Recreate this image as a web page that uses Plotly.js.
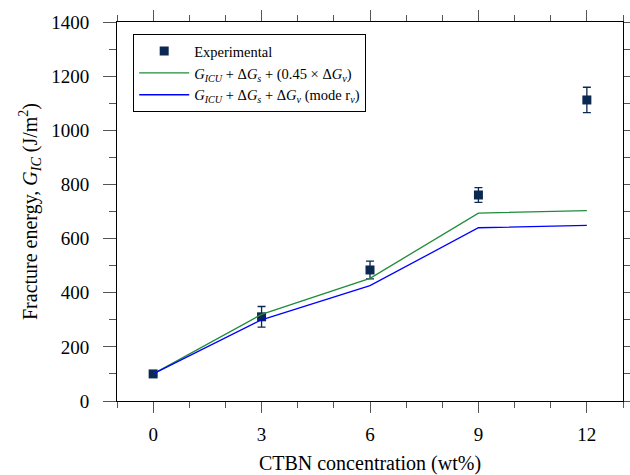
<!DOCTYPE html>
<html>
<head>
<meta charset="utf-8">
<script src="https://cdn.plot.ly/plotly-3.0.1.min.js"></script>
<style>html,body{margin:0;padding:0;background:#fff;}#chart{width:630px;height:475px;}</style>
</head>
<body>
<div id="chart"></div>
<script>
const ctbn = [0, 3, 6, 9, 12];
const experimental = [100, 311, 484, 761, 1112];
const expError = [6, 38, 33, 27, 47];
const modelPartial = [100, 320, 453, 694, 703];
const modelFull = [100, 300, 426, 640, 649];
const xTicks = [0, 3, 6, 9, 12];
const yTicks = [0, 200, 400, 600, 800, 1000, 1200, 1400];

const font = 'Liberation Serif, serif';

const traces = [
  {
    x: ctbn, y: experimental, type: 'scatter', mode: 'markers',
    name: 'Experimental',
    marker: {symbol: 'square', size: 9, color: '#0b2850'},
    error_y: {type: 'data', array: expError, visible: true, color: '#0b2850', thickness: 1.3, width: 4}
  },
  {
    x: ctbn, y: modelPartial, type: 'scatter', mode: 'lines',
    name: '<i>G</i><sub><i>ICU</i></sub> + Δ<i>G</i><sub><i>s</i></sub> + (0.45 × Δ<i>G</i><sub><i>v</i></sub>)',
    line: {color: '#1e8c3a', width: 1.3}
  },
  {
    x: ctbn, y: modelFull, type: 'scatter', mode: 'lines',
    name: '<i>G</i><sub><i>ICU</i></sub> + Δ<i>G</i><sub><i>s</i></sub> + Δ<i>G</i><sub><i>v</i></sub> (mode r<sub><i>v</i></sub>)',
    line: {color: '#0000ff', width: 1.3}
  }
];

const layout = {
  width: 630, height: 475,
  margin: {l: 117, r: 7, t: 22, b: 74},
  paper_bgcolor: '#fff', plot_bgcolor: '#fff',
  font: {family: font, size: 19, color: '#000'},
  showlegend: true,
  legend: {
    x: 0.032, y: 0.968, xanchor: 'left', yanchor: 'top',
    bgcolor: '#fff', bordercolor: '#000', borderwidth: 1,
    font: {family: font, size: 14.5, color: '#000'},
    tracegroupgap: 0, itemwidth: 50
  },
  xaxis: {
    range: [-1, 13], tickmode: 'array', tickvals: xTicks, ticktext: xTicks.map(String),
    showgrid: false, zeroline: false,
    showline: true, linecolor: '#000', linewidth: 1, mirror: 'allticks',
    ticks: 'outside', ticklen: 11, tickcolor: '#555', tickwidth: 1, ticklabelstandoff: 5,
    minor: {dtick: 1, ticks: 'outside', ticklen: 6, tickcolor: '#555', tickwidth: 1, showgrid: false},
    tickfont: {family: font, size: 19},
    title: {text: 'CTBN concentration (wt%)', font: {family: font, size: 20}, standoff: 16}
  },
  yaxis: {
    range: [0, 1400], tickmode: 'array', tickvals: yTicks, ticktext: yTicks.map(String),
    showgrid: false, zeroline: false,
    showline: true, linecolor: '#000', linewidth: 1, mirror: 'allticks',
    ticks: 'outside', ticklen: 13, tickcolor: '#555', tickwidth: 1,
    ticklabelposition: 'outside', ticklabelstandoff: 10,
    minor: {dtick: 100, ticks: 'outside', ticklen: 7, tickcolor: '#555', tickwidth: 1, showgrid: false},
    tickfont: {family: font, size: 19},
    title: {text: 'Fracture energy, <i>G</i><sub><i>IC</i></sub> (J/m<sup>2</sup>)', font: {family: font, size: 20}, standoff: 8}
  }
};

Plotly.newPlot('chart', traces, layout, {displayModeBar: false, staticPlot: true});
</script>
</body>
</html>
